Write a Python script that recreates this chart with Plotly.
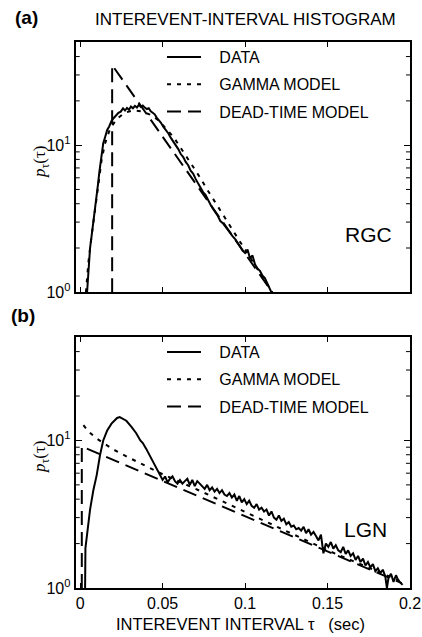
import plotly.graph_objects as go

# ---------------- data ----------------
# Panel (a) RGC
a_data_x = [0.0042, 0.0050, 0.0060, 0.0070, 0.0080, 0.0090, 0.0100, 0.0108, 0.0116, 0.0124, 0.0132,
            0.0140, 0.0152, 0.0164, 0.0176, 0.0190, 0.0204, 0.0218, 0.0232, 0.0246, 0.0260, 0.0272,
            0.0284, 0.0296, 0.0308, 0.0320, 0.0332, 0.0344, 0.0356, 0.0368, 0.0380, 0.0392, 0.0404,
            0.0416, 0.0428, 0.0440, 0.0452, 0.0464, 0.0476, 0.0490, 0.0505, 0.0520, 0.0535, 0.0550,
            0.0565, 0.0580, 0.0595, 0.0610, 0.0625, 0.0640, 0.0655, 0.0670, 0.0685, 0.0700, 0.0715,
            0.0730, 0.0745, 0.0760, 0.0775, 0.0790, 0.0805, 0.0820, 0.0835, 0.0850, 0.0865, 0.0880,
            0.0895, 0.0910, 0.0925, 0.0940, 0.0955, 0.0970, 0.0985, 0.1000, 0.1015, 0.1030, 0.1045,
            0.1060, 0.1075, 0.1090, 0.1105, 0.1120, 0.1135, 0.1150, 0.1160]
a_data_y = [1.00, 1.45, 2.00, 2.45, 2.96, 3.65, 4.50, 5.40, 6.50, 7.60, 8.80,
            10.3, 11.4, 12.7, 13.4, 14.6, 15.3, 15.9, 16.6, 16.9, 17.8, 17.2,
            17.9, 17.4, 18.3, 17.8, 18.5, 18.0, 18.8, 18.2, 18.6, 18.0, 17.6,
            17.8, 17.0, 16.6, 16.2, 15.4, 14.9, 14.2, 13.3, 12.7, 12.0, 11.2,
            10.6, 10.0, 9.40, 8.70, 8.30, 7.70, 7.30, 6.70, 6.40, 5.90, 5.50,
            5.20, 4.80, 4.60, 4.20, 3.95, 3.70, 3.50, 3.30, 3.05, 2.95, 2.80,
            2.65, 2.55, 2.40, 2.30, 2.15, 2.05, 1.92, 1.85, 1.95, 1.70, 1.78,
            1.55, 1.45, 1.40, 1.30, 1.25, 1.15, 1.08, 1.00]

a_gamma_x = [0.0035, 0.0050, 0.0070, 0.0090, 0.0110, 0.0130, 0.0150, 0.0180, 0.0220, 0.0270,
             0.0320, 0.0370, 0.0420, 0.0470, 0.0520, 0.0570, 0.0620, 0.0670, 0.0720, 0.0770,
             0.0820, 0.0870, 0.0920, 0.0970, 0.1020, 0.1070, 0.1120, 0.1170]
a_gamma_y = [1.00, 1.60, 2.45, 3.70, 5.50, 7.90, 10.2, 12.8, 15.0, 16.6,
             17.2, 17.0, 16.2, 14.9, 13.0, 11.2, 9.20, 7.60, 6.20, 5.00,
             4.05, 3.30, 2.70, 2.20, 1.80, 1.47, 1.20, 0.98]

a_dead_x = [0.0194, 0.0194, 0.1165]
a_dead_y = [1.00, 35.0, 1.00]

# Panel (b) LGN
b_data_x = [0.0030, 0.0032, 0.0060, 0.0080, 0.0100, 0.0120, 0.0140, 0.0164, 0.0190, 0.0210,
            0.0224, 0.0240, 0.0260, 0.0280, 0.0310, 0.0340, 0.0365, 0.0380, 0.0400, 0.0420,
            0.0440, 0.0460, 0.0480, 0.0500, 0.0515, 0.0530, 0.0545, 0.0560, 0.0575, 0.0590,
            0.0605, 0.0620, 0.0635, 0.0650, 0.0665, 0.0680, 0.0695, 0.0710, 0.0725, 0.0740,
            0.0755, 0.0770, 0.0785, 0.0800, 0.0815, 0.0830, 0.0845, 0.0860, 0.0875, 0.0890,
            0.0905, 0.0920, 0.0935, 0.0950, 0.0965, 0.0980, 0.0995, 0.1010, 0.1025, 0.1040,
            0.1055, 0.1070, 0.1085, 0.1100, 0.1115, 0.1130, 0.1145, 0.1160, 0.1175, 0.1190,
            0.1205, 0.1220, 0.1235, 0.1250, 0.1265, 0.1280, 0.1295, 0.1310, 0.1325, 0.1340,
            0.1355, 0.1370, 0.1385, 0.1400, 0.1415, 0.1430, 0.1445, 0.1460, 0.1475, 0.1490,
            0.1505, 0.1520, 0.1535, 0.1550, 0.1565, 0.1580, 0.1595, 0.1610, 0.1625, 0.1640,
            0.1655, 0.1670, 0.1685, 0.1700, 0.1715, 0.1730, 0.1745, 0.1760, 0.1775, 0.1790,
            0.1805, 0.1820, 0.1835, 0.1850, 0.1860, 0.1870, 0.1885, 0.1900, 0.1915, 0.1930,
            0.1945, 0.1955]
b_data_y = [1.00, 1.86, 3.40, 4.60, 5.80, 7.90, 10.0, 11.7, 13.0, 13.6,
            14.2, 14.4, 14.0, 13.6, 12.4, 11.2, 10.0, 9.60, 8.80, 8.00,
            7.20, 6.60, 5.90, 5.40, 5.70, 5.20, 5.50, 5.70, 5.30, 5.10,
            5.40, 5.10, 5.30, 5.50, 5.00, 5.40, 4.90, 5.30, 5.10, 4.90,
            4.70, 5.00, 4.60, 4.80, 4.50, 4.70, 4.40, 4.60, 4.30, 4.20,
            4.40, 4.10, 4.30, 3.90, 4.20, 3.80, 4.00, 3.70, 3.90, 3.60,
            3.50, 3.70, 3.40, 3.50, 3.30, 3.40, 3.10, 3.30, 3.00, 2.90,
            3.10, 2.85, 2.95, 2.70, 2.80, 2.60, 2.65, 2.50, 2.55, 2.45,
            2.60, 2.35, 2.50, 2.30, 2.40, 2.25, 2.10, 2.30, 1.72, 2.00,
            1.90, 2.05, 1.85, 1.95, 1.80, 1.75, 1.90, 1.70, 1.80, 1.65,
            1.72, 1.55, 1.65, 1.50, 1.58, 1.42, 1.50, 1.38, 1.45, 1.30,
            1.36, 1.26, 1.33, 1.20, 1.00, 1.18, 1.25, 1.10, 1.22, 1.12,
            1.08, 1.05]

b_gamma_x = [0.0020, 0.0050, 0.0100, 0.0150, 0.0200, 0.0300, 0.0400, 0.0500, 0.0700, 0.0900,
             0.1100, 0.1300, 0.1500, 0.1700, 0.1950]
b_gamma_y = [12.7, 11.5, 10.3, 9.40, 8.70, 7.60, 6.70, 5.90, 4.70, 3.70,
             2.90, 2.30, 1.80, 1.45, 1.10]

b_dead_x = [0.0010, 0.0010, 0.1950]
b_dead_y = [1.00, 9.10, 1.08]

x_ticks = [0, 0.05, 0.1, 0.15, 0.2]
x_tick_labels = ["0", "0.05", "0.1", "0.15", "0.2"]
y_ticks = [1, 10]
y_tick_labels = ["10<sup>0</sup>", "10<sup>1</sup>"]
y_minor = [2, 3, 4, 5, 6, 7, 8, 9, 20, 30, 40]
legend_names = ["\u00a0\u00a0\u00a0DATA", "\u00a0\u00a0\u00a0GAMMA MODEL", "\u00a0\u00a0\u00a0DEAD-TIME MODEL"]

# ---------------- figure ----------------
FONT = "Liberation Sans, Arial, Helvetica, sans-serif"
W, H = 422, 637
solid = dict(color="black", width=2)
dotted = dict(color="black", width=2, dash="4px,6px")
dashed = dict(color="black", width=2, dash="14px,7px")
thin = dict(color="black", width=1)

x_left, x_right = 75.7 / W, 410 / W
a_dom = [1 - 292.3 / H, 1 - 42.3 / H]
b_dom = [1 - 588 / H, 1 - 337.3 / H]
X_RANGE = [-0.0027, 0.2]
Y_RANGE = [0, 1.699]                 # log10 units
PW = (x_right - x_left) * W          # plot width, px
DX = (X_RANGE[1] - X_RANGE[0]) / PW  # x data units per px
MINOR_LEN = 4                        # px

fig = go.Figure()
panels = [
    ("a", "x", "y", "legend", a_data_x, a_data_y, a_gamma_x, a_gamma_y, a_dead_x, a_dead_y),
    ("b", "x2", "y2", "legend2", b_data_x, b_data_y, b_gamma_x, b_gamma_y, b_dead_x, b_dead_y),
]
for tag, xa, ya, lg, dx, dy, gx, gy, tx, ty in panels:
    fig.add_trace(go.Scatter(x=dx, y=dy, mode="lines", line=solid, name=legend_names[0],
                             xaxis=xa, yaxis=ya, legend=lg, legendgroup=tag + "1"))
    fig.add_trace(go.Scatter(x=gx, y=gy, mode="lines", line=dotted, name=legend_names[1],
                             xaxis=xa, yaxis=ya, legend=lg, legendgroup=tag + "2"))
    fig.add_trace(go.Scatter(x=tx, y=ty, mode="lines", line=dashed, name=legend_names[2],
                             xaxis=xa, yaxis=ya, legend=lg, legendgroup=tag + "3"))
    # minor y tick marks (inside, left and right)
    mx, my = [], []
    for v in y_minor:
        mx += [X_RANGE[0], X_RANGE[0] + MINOR_LEN * DX, None,
               X_RANGE[1] - MINOR_LEN * DX, X_RANGE[1], None]
        my += [v, v, None, v, v, None]
    fig.add_trace(go.Scatter(x=mx, y=my, mode="lines", line=thin, name="minor ticks",
                             showlegend=False, legend=lg, legendgroup=tag + "1",
                             hoverinfo="skip", xaxis=xa, yaxis=ya))


def xaxis(anchor, labels):
    return dict(domain=[x_left, x_right], range=X_RANGE, anchor=anchor,
                showline=True, linecolor="#000000", linewidth=2, mirror="ticks",
                ticks="inside", ticklen=5, tickwidth=1, tickcolor="#000000",
                automargin=False,
                tickmode="array", tickvals=x_ticks, ticktext=x_tick_labels,
                showticklabels=labels,
                tickfont=dict(size=16, family=FONT, color="black"),
                showgrid=False, zeroline=False)


def yaxis(anchor, dom):
    return dict(domain=dom, type="log", range=Y_RANGE, anchor=anchor,
                showline=True, linecolor="#000000", linewidth=2, mirror="ticks",
                ticks="inside", ticklen=6, tickwidth=1, tickcolor="#000000",
                automargin=False,
                tickmode="array", tickvals=y_ticks, ticktext=y_tick_labels,
                tickfont=dict(size=16, family=FONT, color="black"),
                showgrid=False, zeroline=False)


def legend(ytop):
    return dict(x=162 / W, y=ytop, xanchor="left", yanchor="top",
                bgcolor="rgba(0,0,0,0)", borderwidth=0,
                font=dict(size=16, family=FONT, color="black"),
                itemwidth=34, tracegroupgap=3.5)


anns = [
    dict(text="INTEREVENT-INTERVAL HISTOGRAM", x=245 / W, y=1 - 20 / H, font=dict(size=17)),
    dict(text="<b>(a)</b>", x=27 / W, y=1 - 18 / H, font=dict(size=19)),
    dict(text="<b>(b)</b>", x=23 / W, y=1 - 315 / H, font=dict(size=19)),
    dict(text="RGC", x=368 / W, y=1 - 235 / H, font=dict(size=21)),
    dict(text="LGN", x=365 / W, y=1 - 529 / H, font=dict(size=21)),
    dict(text="<i>p</i><sub>τ</sub>(τ)", x=41 / W, y=1 - 162 / H, textangle=-90,
         font=dict(size=17, family="Liberation Serif, Times New Roman, serif")),
    dict(text="<i>p</i><sub>τ</sub>(τ)", x=41 / W, y=1 - 457 / H, textangle=-90,
         font=dict(size=17, family="Liberation Serif, Times New Roman, serif")),
    dict(text="INTEREVENT INTERVAL τ\u00a0\u00a0\u00a0(sec)", x=241 / W, y=1 - 624 / H,
         font=dict(size=16.5)),
]
annotations = []
for a in anns:
    f = dict(family=FONT, color="black")
    f.update(a.pop("font"))
    a.update(dict(xref="paper", yref="paper", showarrow=False, xanchor="center",
                  yanchor="middle", font=f))
    annotations.append(a)

fig.update_layout(
    template="none",
    width=W, height=H, margin=dict(l=0, r=0, t=0, b=0, autoexpand=False),
    paper_bgcolor="white", plot_bgcolor="white",
    font=dict(family=FONT, color="black", size=16),
    xaxis=xaxis("y", False), yaxis=yaxis("x", a_dom),
    xaxis2=xaxis("y2", True), yaxis2=yaxis("x2", b_dom),
    legend=legend(1 - 40 / H), legend2=legend(1 - 335 / H),
    annotations=annotations, showlegend=True,
)

fig.write_html("out.html")
